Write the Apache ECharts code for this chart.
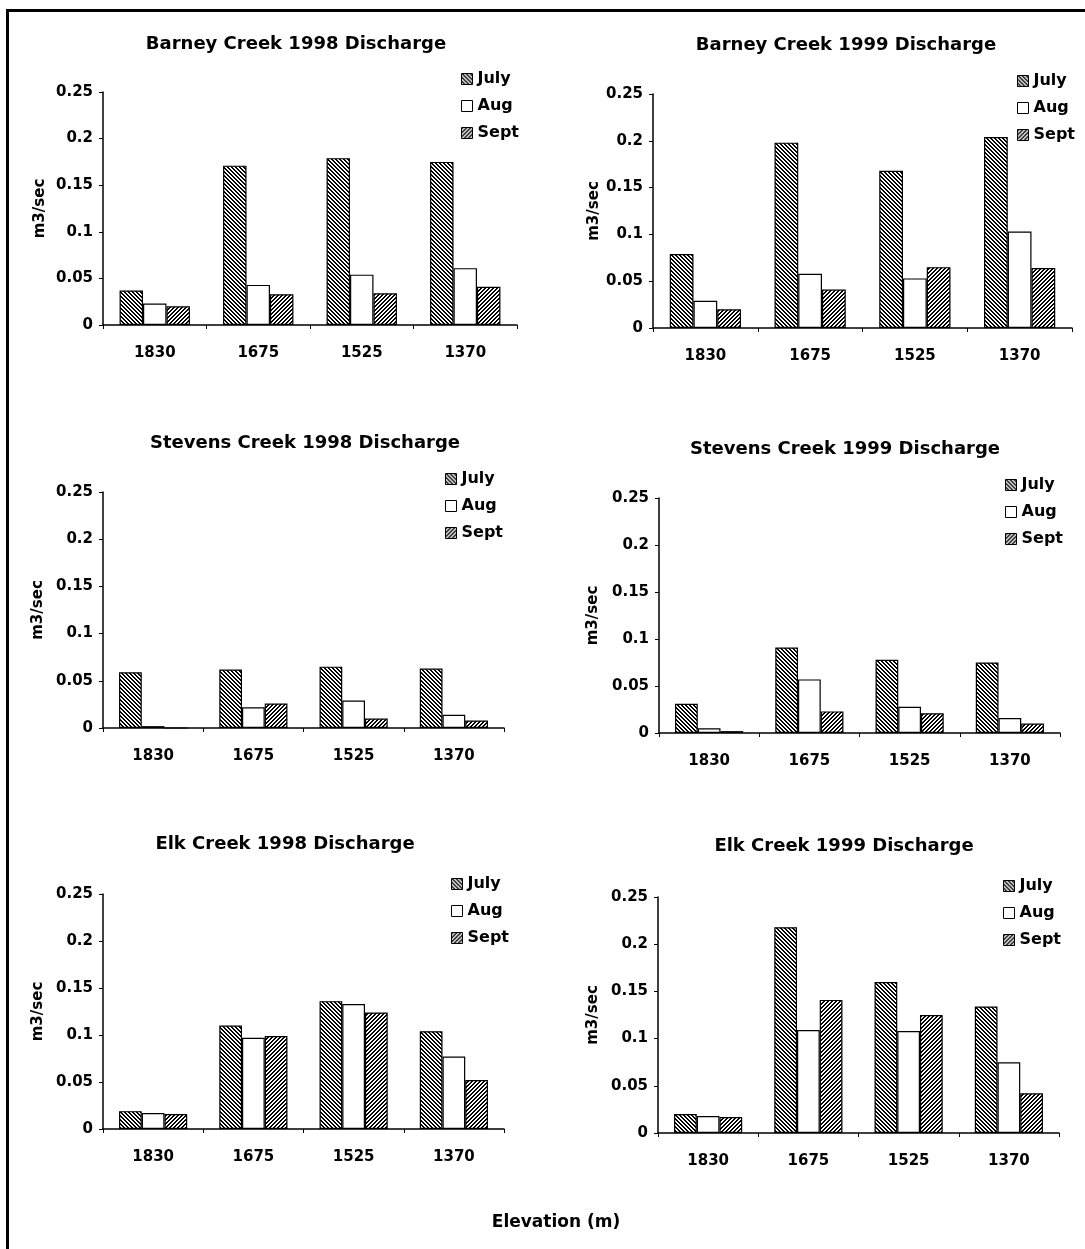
<!DOCTYPE html>
<html>
<head>
<meta charset="utf-8">
<script src="https://cdn.jsdelivr.net/npm/echarts@6/dist/echarts.min.js"></script>
<style>
html,body{margin:0;padding:0;background:#fff;}
#chart{width:1085px;height:1249px;}
</style>
</head>
<body>
<div id="chart"></div>
<script>
// ---- data ----
const categories = ['1830', '1675', '1525', '1370'];
const months = ['July', 'Aug', 'Sept'];
const panelTitles = [
  'Barney Creek 1998 Discharge', 'Barney Creek 1999 Discharge',
  'Stevens Creek 1998 Discharge', 'Stevens Creek 1999 Discharge',
  'Elk Creek 1998 Discharge', 'Elk Creek 1999 Discharge'
];
const yTicks = ['0', '0.05', '0.1', '0.15', '0.2', '0.25'];

const barney1998July = [0.037, 0.171, 0.179, 0.175];
const barney1998Aug  = [0.023, 0.043, 0.054, 0.061];
const barney1998Sept = [0.020, 0.033, 0.034, 0.041];

const barney1999July = [0.079, 0.198, 0.168, 0.204];
const barney1999Aug  = [0.029, 0.058, 0.053, 0.103];
const barney1999Sept = [0.020, 0.041, 0.065, 0.064];

const stevens1998July = [0.059, 0.062, 0.065, 0.063];
const stevens1998Aug  = [0.002, 0.022, 0.029, 0.014];
const stevens1998Sept = [0.000, 0.026, 0.010, 0.008];

const stevens1999July = [0.031, 0.091, 0.078, 0.075];
const stevens1999Aug  = [0.005, 0.057, 0.028, 0.016];
const stevens1999Sept = [0.002, 0.023, 0.021, 0.010];

const elk1998July = [0.019, 0.110, 0.136, 0.104];
const elk1998Aug  = [0.017, 0.097, 0.133, 0.077];
const elk1998Sept = [0.016, 0.099, 0.124, 0.052];

const elk1999July = [0.020, 0.218, 0.160, 0.134];
const elk1999Aug  = [0.018, 0.109, 0.108, 0.075];
const elk1999Sept = [0.017, 0.141, 0.125, 0.042];

const panelData = [
  [barney1998July, barney1998Aug, barney1998Sept],
  [barney1999July, barney1999Aug, barney1999Sept],
  [stevens1998July, stevens1998Aug, stevens1998Sept],
  [stevens1999July, stevens1999Aug, stevens1999Sept],
  [elk1998July, elk1998Aug, elk1998Sept],
  [elk1999July, elk1999Aug, elk1999Sept]
];

// ---- layout (pixels) ----
const layouts = [
  {left:103, right:517, top:92,  bottom:325, titleX:296, titleY:43,  legX:461,  legY:79,  nameGap:55},
  {left:653, right:1072,top:94,  bottom:328, titleX:846, titleY:44,  legX:1017, legY:81,  nameGap:48},
  {left:103, right:504, top:492, bottom:728, titleX:305, titleY:442, legX:445,  legY:479, nameGap:57},
  {left:659, right:1060,top:498, bottom:733, titleX:845, titleY:448, legX:1005, legY:485, nameGap:58},
  {left:103, right:504, top:894, bottom:1129,titleX:285, titleY:843, legX:451,  legY:884, nameGap:57},
  {left:658, right:1059,top:897, bottom:1133,titleX:844, titleY:845, legX:1003, legY:886, nameGap:57}
];

const FONT = 'DejaVu Sans';

function hatch(dir) {
  const n = 4;
  const c = document.createElement('canvas');
  c.width = n; c.height = n;
  const ctx = c.getContext('2d');
  const img = ctx.createImageData(n, n);
  for (let y = 0; y < n; y++) {
    for (let x = 0; x < n; x++) {
      const k = dir > 0 ? (((x - y) % n) + n) % n : (x + y) % n;
      const v = k < 2 ? 0 : 255;
      const i = (y * n + x) * 4;
      img.data[i] = v; img.data[i+1] = v; img.data[i+2] = v; img.data[i+3] = 255;
    }
  }
  ctx.putImageData(img, 0, 0);
  return {image: c, repeat: 'repeat'};
}
const fills = [hatch(1), '#ffffff', hatch(-1)];

const grids = [], xAxes = [], yAxes = [], series = [], titles = [], legends = [];
layouts.forEach((L, p) => {
  grids.push({left: L.left, top: L.top, width: L.right - L.left, height: L.bottom - L.top, containLabel: false});
  xAxes.push({
    type: 'category', gridIndex: p, data: categories,
    axisLine: {show: true, lineStyle: {color: '#000', width: 1.5}},
    axisTick: {show: true, length: 4, lineStyle: {color: '#000', width: 1}},
    axisLabel: {fontFamily: FONT, fontWeight: 'bold', fontSize: 15, color: '#000', margin: 21},
    splitLine: {show: false}
  });
  yAxes.push({
    type: 'value', gridIndex: p, min: 0, max: 0.25, interval: 0.05,
    axisLine: {show: true, lineStyle: {color: '#000', width: 1.5}},
    axisTick: {show: true, length: 4, lineStyle: {color: '#000', width: 1}},
    axisLabel: {fontFamily: FONT, fontWeight: 'bold', fontSize: 15, color: '#000', margin: 10,
      formatter: (v) => yTicks[Math.round(v / 0.05)]},
    splitLine: {show: false},
    name: 'm3/sec', nameLocation: 'middle', nameGap: L.nameGap,
    nameTextStyle: {fontFamily: FONT, fontWeight: 'bold', fontSize: 15, color: '#000'}
  });
  titles.push({
    text: panelTitles[p], left: L.titleX, top: L.titleY - 8, textAlign: 'center', padding: 0,
    textStyle: {fontFamily: FONT, fontWeight: 'bold', fontSize: 18, color: '#000'}
  });
  legends.push({
    orient: 'vertical', left: L.legX, top: L.legY - 8, padding: 0,
    itemWidth: 11, itemHeight: 11, itemGap: 11, icon: 'rect', selectedMode: false,
    data: months,
    itemStyle: {borderColor: '#000', borderWidth: 1},
    textStyle: {fontFamily: FONT, fontWeight: 'bold', fontSize: 16, color: '#000'}
  });
  months.forEach((m, k) => {
    series.push({
      type: 'bar', name: m, xAxisIndex: p, yAxisIndex: p,
      data: panelData[p][k],
      barGap: '0%', barCategoryGap: '32%',
      itemStyle: {color: fills[k], borderColor: '#000', borderWidth: 1.2}
    });
  });
});

titles.push({
  text: 'Elevation (m)', left: 556, top: 1214, textAlign: 'center', padding: 0,
  textStyle: {fontFamily: FONT, fontWeight: 'bold', fontSize: 17, color: '#000'}
});

const chart = echarts.init(document.getElementById('chart'), null, {renderer: 'canvas'});
chart.setOption({
  backgroundColor: '#fff',
  animation: false,
  title: titles,
  legend: legends,
  grid: grids,
  xAxis: xAxes,
  yAxis: yAxes,
  series: series,
  graphic: [
    {type: 'line', shape: {x1: 6, y1: 10.5, x2: 1085, y2: 10.5}, style: {stroke: '#000', lineWidth: 3}},
    {type: 'line', shape: {x1: 7.5, y1: 9, x2: 7.5, y2: 1249}, style: {stroke: '#000', lineWidth: 3}}
  ]
});
</script>
</body>
</html>
